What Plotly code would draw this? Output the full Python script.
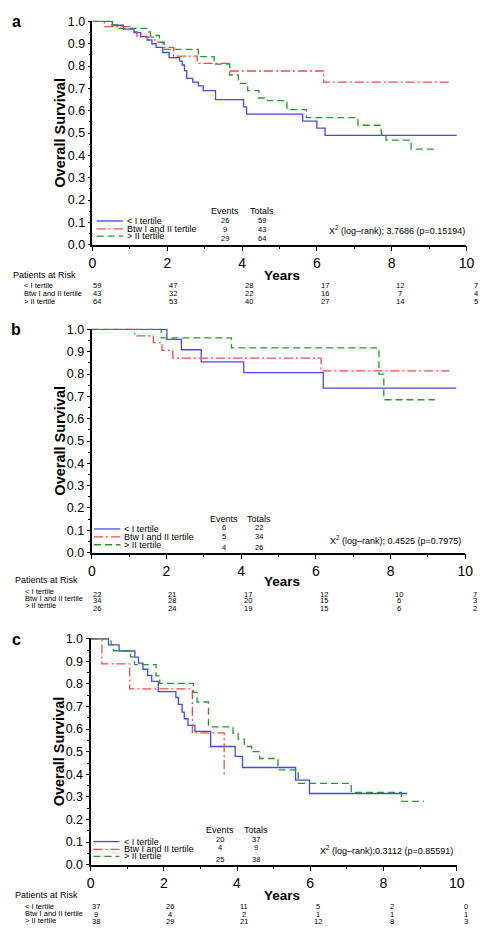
import plotly.graph_objects as go

W, H = 493, 938
FONT = "Liberation Sans, Arial, sans-serif"

# ---------------- data ----------------
groups = ["< I tertile", "Btw I and II tertile", "> II tertile"]
risk_times = [0, 2, 4, 6, 8, 10]

# panel a
a_blue_t = [0, 0.53, 0.83, 1.11, 1.29, 1.46, 1.59, 1.70, 1.88, 2.05, 2.33, 2.40, 2.46, 2.52, 2.68, 2.83, 2.96, 3.29, 4.04, 4.12, 5.62, 6.00, 6.22, 9.74]
a_blue_s = [1.0, 0.983, 0.966, 0.950, 0.933, 0.917, 0.900, 0.884, 0.861, 0.838, 0.822, 0.805, 0.780, 0.745, 0.728, 0.711, 0.690, 0.650, 0.617, 0.585, 0.553, 0.522, 0.490, 0.490]
a_red_t = [0, 0.32, 1.06, 1.19, 1.67, 1.89, 2.17, 2.80, 3.67, 6.18, 9.58]
a_red_s = [1.0, 0.977, 0.954, 0.930, 0.907, 0.884, 0.845, 0.812, 0.778, 0.728, 0.728]
a_green_t = [0, 0.52, 0.68, 1.45, 1.55, 1.79, 1.92, 2.83, 3.25, 3.67, 3.90, 4.15, 4.45, 4.68, 5.20, 5.72, 7.10, 7.72, 7.85, 8.52, 9.24]
a_green_s = [1.0, 0.984, 0.969, 0.953, 0.937, 0.906, 0.875, 0.842, 0.809, 0.760, 0.723, 0.690, 0.657, 0.645, 0.605, 0.569, 0.535, 0.495, 0.468, 0.428, 0.428]
a_events = [26, 9, 29]
a_totals = [59, 43, 64]
a_risk = [[59, 47, 28, 17, 12, 7], [43, 32, 22, 16, 7, 4], [64, 53, 40, 27, 14, 5]]
a_chi = "X<sup>2</sup> (log\u2013rank); 3.7686 (p=0.15194)"

# panel b
b_blue_t = [0, 2.01, 2.40, 2.93, 4.07, 6.20, 9.76]
b_blue_s = [1.0, 0.955, 0.909, 0.855, 0.806, 0.737, 0.737]
b_red_t = [0, 1.15, 1.65, 1.88, 2.17, 6.14, 9.58]
b_red_s = [1.0, 0.971, 0.941, 0.906, 0.871, 0.814, 0.814]
b_green_t = [0, 1.86, 3.74, 7.69, 7.82, 9.19]
b_green_s = [1.0, 0.962, 0.917, 0.800, 0.685, 0.685]
b_events = [6, 5, 4]
b_totals = [22, 34, 26]
b_risk = [[22, 21, 17, 12, 10, 7], [34, 28, 20, 15, 6, 3], [26, 24, 19, 15, 6, 2]]
b_chi = "X<sup>2</sup> (log\u2013rank); 0.4525 (p=0.7975)"

# panel c
c_blue_t = [0, 0.49, 0.78, 1.21, 1.31, 1.43, 1.56, 1.67, 1.85, 2.33, 2.40, 2.50, 2.56, 2.66, 2.85, 3.28, 3.95, 4.15, 5.60, 5.98, 8.65]
c_blue_s = [1.0, 0.973, 0.946, 0.919, 0.892, 0.865, 0.838, 0.811, 0.766, 0.740, 0.710, 0.675, 0.646, 0.617, 0.590, 0.523, 0.479, 0.430, 0.374, 0.315, 0.315]
c_red_t = [0, 0.31, 1.07, 2.78, 3.65]
c_red_s = [1.0, 0.889, 0.778, 0.583, 0.389]
c_green_t = [0, 0.56, 0.62, 1.09, 1.20, 1.79, 1.89, 2.81, 2.91, 3.22, 3.89, 4.03, 4.20, 4.40, 4.62, 5.12, 5.67, 7.12, 8.49, 9.11]
c_green_s = [1.0, 0.974, 0.947, 0.920, 0.886, 0.836, 0.803, 0.763, 0.720, 0.610, 0.581, 0.556, 0.523, 0.500, 0.470, 0.420, 0.360, 0.320, 0.280, 0.280]
c_events = [20, 4, 25]
c_totals = [37, 9, 38]
c_risk = [[37, 26, 11, 5, 2, 0], [9, 4, 2, 1, 1, 1], [38, 29, 21, 12, 8, 3]]
c_chi = "X<sup>2</sup> (log\u2013rank);0.3112 (p=0.85591)"

# ---------------- styles / layout (pixels) ----------------
colors = ["rgb(70,70,255)", "rgb(255,70,70)", "rgb(40,150,40)"]
dashes = ["solid", "9px,3px,2px,3px", "7px,4px"]


def px(x):
    return x / W


def py(y):
    return 1 - y / H


def note(text, x, y, size, xanchor="center", bold=False, **kw):
    d = dict(text=("<b>%s</b>" % text) if bold else text, x=x, y=y,
             xanchor=xanchor, yanchor="middle", showarrow=False,
             font=dict(family=FONT, size=size, color="black"))
    d.setdefault("xref", "paper")
    d.setdefault("yref", "paper")
    d.update(kw)
    return d


panels = [
    dict(letter="a", curves=[(a_blue_t, a_blue_s), (a_red_t, a_red_s), (a_green_t, a_green_s)],
         events=a_events, totals=a_totals, risk=a_risk, chi=a_chi,
         x0=90.7, x1=474, ytop=15.7, ybot=242, axw=1.5, letter_y=16, ylab_x=57,
         years_y=273.3, par_y=272.3, par_x=7.3, lab_x=18,
         lab_y=[283.3, 291.7, 300.0], num_y=[283.3, 291.7, 300.0],
         leg_y=[218.0, 226.0, 233.3], leg_x=(95, 122), leg_tx=124,
         ev_hy=208.3, ev_x=226.7, tot_x=264, ev_y=[217.3, 226.3, 236.0],
         chi_y=227.3, chi_x=475),
    dict(letter="b", curves=[(b_blue_t, b_blue_s), (b_red_t, b_red_s), (b_green_t, b_green_s)],
         events=b_events, totals=b_totals, risk=b_risk, chi=b_chi,
         x0=90, x1=472.7, ytop=328, ybot=554.3, axw=2.2, letter_y=327.7, ylab_x=57,
         years_y=583.3, par_y=582.3, par_x=9, lab_x=19,
         lab_y=[593.3, 600.8, 607.5], num_y=[596.7, 603.3, 611.0],
         leg_y=[530.3, 538.3, 546.3], leg_x=(92.3, 119.3), leg_tx=121,
         ev_hy=520.3, ev_x=225, tot_x=261.7, ev_y=[529.3, 538.3, 549.3],
         chi_y=541.7, chi_x=470.7),
    dict(letter="c", curves=[(c_blue_t, c_blue_s), (c_red_t, c_red_s), (c_green_t, c_green_s)],
         events=c_events, totals=c_totals, risk=c_risk, chi=c_chi,
         x0=88.7, x1=464, ytop=641.7, ybot=870.7, axw=2.0, letter_y=642, ylab_x=56,
         years_y=902.3, par_y=901.7, par_x=9, lab_x=19,
         lab_y=[912.7, 920.7, 927.3], num_y=[913.3, 921.3, 928.0],
         leg_y=[847.3, 855.3, 862.3], leg_x=(91.7, 118.3), leg_tx=121,
         ev_hy=836, ev_x=221.7, tot_x=258.3, ev_y=[845.7, 853.7, 865.0],
         chi_y=856, chi_x=462.7),
]

fig = go.Figure()
annotations = []
shapes = []

for i, p in enumerate(panels):
    n = "" if i == 0 else str(i + 1)
    xa, ya = "x" + n, "y" + n
    for g, (t, s) in enumerate(p["curves"]):
        fig.add_trace(go.Scatter(
            x=t, y=s, mode="lines", line_shape="hv", xaxis=xa, yaxis=ya,
            line=dict(color=colors[g], width=1.3, dash=dashes[g]),
            name=groups[g], showlegend=False, hoverinfo="skip"))

    common_x = dict(range=[0, 10], domain=[px(p["x0"]), px(p["x1"])], anchor=ya,
                    showline=True, linecolor="black", linewidth=1.5, showgrid=False, zeroline=False,
                    ticks="outside", ticklen=5, tickwidth=1, tickcolor="black",
                    tickmode="linear", tick0=0, dtick=2,
                    minor=dict(ticks="outside", ticklen=3, dtick=1, tickcolor="black", showgrid=False),
                    tickfont=dict(family=FONT, size=14, color="black"), fixedrange=True)
    common_y = dict(range=[0, 1.004], domain=[py(p["ybot"]), py(p["ytop"]) + 0.001], anchor=xa,
                    showline=True, linecolor="black", linewidth=p["axw"], showgrid=False, zeroline=False,
                    ticks="outside", ticklen=3, tickwidth=1, tickcolor="black",
                    tickmode="linear", tick0=0, dtick=0.1, tickformat=".1f",
                    minor=dict(ticks="outside", ticklen=2, dtick=0.05, tickcolor="black", showgrid=False),
                    tickfont=dict(family=FONT, size=12.5, color="black"), fixedrange=True)
    fig.update_layout(**{"xaxis" + n: common_x, "yaxis" + n: common_y})

    annotations.append(note(p["letter"], px(12.5), py(p["letter_y"]), 16, bold=True))
    annotations.append(note("Overall Survival", px(p["ylab_x"]), py((p["ytop"] + p["ybot"]) / 2),
                            14.5, bold=True, textangle=-90))
    annotations.append(note("Years", px(285), py(p["years_y"]), 13.5, bold=True))
    annotations.append(note("Patients at Risk", px(p["par_x"]), py(p["par_y"]), 9, xanchor="left"))
    for g in range(3):
        annotations.append(note(groups[g], px(p["lab_x"]), py(p["lab_y"][g]), 7.5, xanchor="left"))
        for k, tt in enumerate(risk_times):
            annotations.append(note(str(p["risk"][g][k]), tt, py(p["num_y"][g]), 7.5,
                                    xref=xa, xshift=5 + 0.45 * tt))
        shapes.append(dict(type="line", xref="paper", yref="paper",
                           x0=px(p["leg_x"][0]), x1=px(p["leg_x"][1]),
                           y0=py(p["leg_y"][g]), y1=py(p["leg_y"][g]),
                           line=dict(color=colors[g], width=1.3, dash=dashes[g])))
        annotations.append(note(groups[g], px(p["leg_tx"]), py(p["leg_y"][g]), 9, xanchor="left"))
        annotations.append(note(str(p["events"][g]), px(p["ev_x"]), py(p["ev_y"][g]), 7.5))
        annotations.append(note(str(p["totals"][g]), px(p["tot_x"]), py(p["ev_y"][g]), 7.5))
    annotations.append(note("Events", px(p["ev_x"]), py(p["ev_hy"]), 9))
    annotations.append(note("Totals", px(p["tot_x"]), py(p["ev_hy"]), 9))
    annotations.append(note(p["chi"], px(p["chi_x"]), py(p["chi_y"]), 9, xanchor="right"))

fig.update_layout(width=W, height=H, margin=dict(l=0, r=0, t=0, b=0),
                  paper_bgcolor="white", plot_bgcolor="white",
                  annotations=annotations, shapes=shapes, showlegend=False,
                  font=dict(family=FONT, color="black"))

fig.write_html("out.html", config={"displayModeBar": False},
               post_script="document.body.style.margin='0';document.body.style.overflow='hidden';")
